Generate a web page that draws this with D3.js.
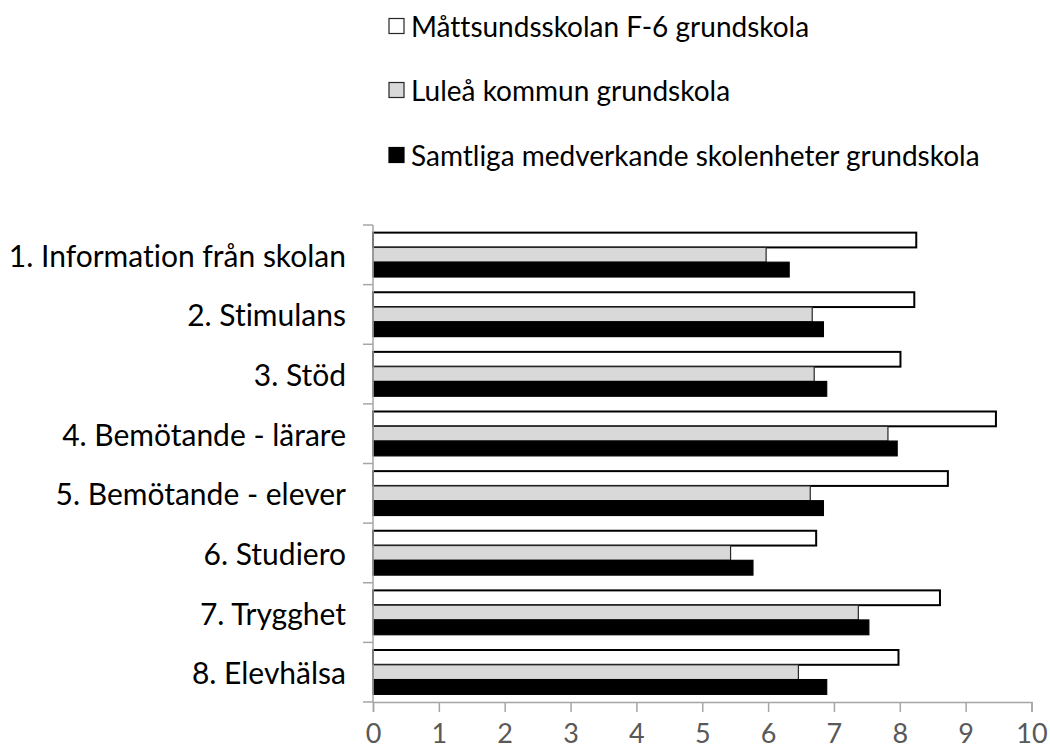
<!DOCTYPE html>
<html><head><meta charset="utf-8">
<script src="https://cdn.jsdelivr.net/npm/d3@7"></script>
<style>body{margin:0;background:#fff;} svg{display:block;} text{font-variant-ligatures:none;}</style>
</head><body>
<svg id="c" width="1050" height="752"></svg>
<script>
const categories = ["1. Information från skolan","2. Stimulans","3. Stöd","4. Bemötande - lärare","5. Bemötande - elever","6. Studiero","7. Trygghet","8. Elevhälsa"];
const seriesNames = ["Måttsundsskolan F-6 grundskola","Luleå kommun grundskola","Samtliga medverkande skolenheter grundskola"];
const mattsund = [8.25, 8.22, 8.01, 9.46, 8.73, 6.73, 8.61, 7.98];
const lulea    = [5.97, 6.67, 6.70, 7.82, 6.64, 5.43, 7.37, 6.46];
const samtliga = [6.32, 6.84, 6.89, 7.96, 6.84, 5.77, 7.53, 6.89];
const xTicks = [0,1,2,3,4,5,6,7,8,9,10];

const seriesValues = [mattsund, lulea, samtliga];
const fills = ["#ffffff", "#d9d9d9", "#000000"];
const strokes = ["#000000", "#262626", "#000000"];
const font = "Lato, 'Open Sans', sans-serif";

const svg = d3.select("#c");
const mLeft = 373, mRight = 1031.5, mTop = 225, mBottom = 702;

const x = d3.scaleLinear().domain([0, 10]).range([mLeft, mRight]);
const y = d3.scaleBand().domain(categories).range([mTop, mBottom]).padding(0);
const bw = y.bandwidth();
const gpad = bw * 0.128;
const y1 = d3.scaleBand().domain(d3.range(3)).range([gpad, bw - gpad]).padding(0);

// bars
const g = svg.append("g");
categories.forEach((c, i) => {
  seriesValues.forEach((vals, s) => {
    g.append("rect")
      .attr("x", x(0))
      .attr("y", y(c) + y1(s))
      .attr("width", x(vals[i]) - x(0))
      .attr("height", y1.bandwidth())
      .attr("fill", fills[s])
      .attr("stroke", strokes[s])
      .attr("stroke-width", s === 0 ? 2 : 1.2);
  });
});

// x axis
const xAxis = svg.append("g").attr("transform", `translate(0,${mBottom})`)
  .call(d3.axisBottom(x).tickValues(xTicks).tickSize(10).tickPadding(12).tickFormat(d3.format("d")));
xAxis.select(".domain").attr("stroke", "#a6a6a6").attr("stroke-width", 1.5);
xAxis.selectAll(".tick line").attr("stroke", "#a6a6a6").attr("stroke-width", 1.5);
xAxis.selectAll("text").attr("fill", "#595959").style("font-family", font).style("font-size", "27px");

// y axis: category boundaries ticks
const yAxisG = svg.append("g");
yAxisG.append("line").attr("x1", mLeft).attr("x2", mLeft).attr("y1", mTop).attr("y2", mBottom)
  .attr("stroke", "#a6a6a6").attr("stroke-width", 1.5);
const bounds = categories.map(c => y(c)).concat([mBottom]);
yAxisG.selectAll("line.t").data(bounds).enter().append("line")
  .attr("x1", mLeft - 10).attr("x2", mLeft).attr("y1", d => d).attr("y2", d => d)
  .attr("stroke", "#a6a6a6").attr("stroke-width", 1.5);
yAxisG.selectAll("text").data(categories).enter().append("text")
  .attr("x", mLeft - 27).attr("y", d => y(d) + bw / 2)
  .attr("text-anchor", "end").attr("dominant-baseline", "central")
  .style("font-family", font).style("font-size", "30px").attr("fill", "#000")
  .text(d => d);

// legend
const legY = [26, 90, 155];
const lg = svg.append("g");
seriesNames.forEach((n, s) => {
  lg.append("rect").attr("x", 389).attr("y", legY[s] - 7.5).attr("width", 15).attr("height", 15)
    .attr("fill", fills[s]).attr("stroke", s === 2 ? "#000" : "#262626").attr("stroke-width", 1.2);
  lg.append("text").attr("x", 411).attr("y", legY[s]).attr("dominant-baseline", "central")
    .style("font-family", font).style("font-size", "28px").attr("fill", "#000").text(n);
});
</script>
</body></html>
